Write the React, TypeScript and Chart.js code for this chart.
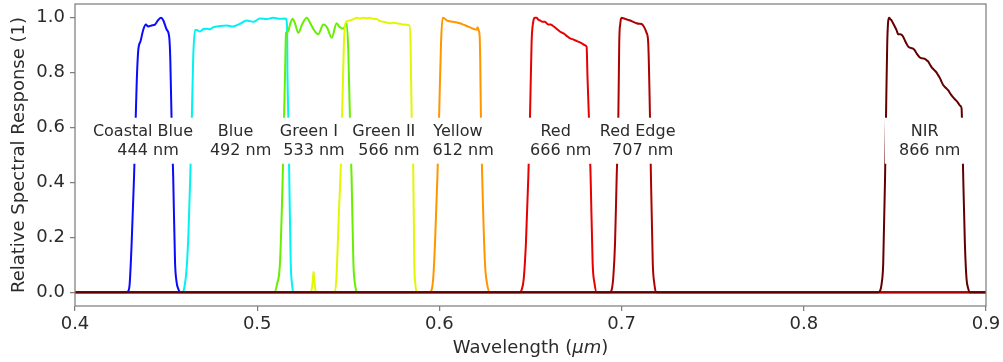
import React, { useEffect, useRef } from "react";
import { Chart, registerables } from "chart.js";

Chart.register(...registerables);

const xTicks = [0.4, 0.5, 0.6, 0.7, 0.8, 0.9];
const yTicks = [0.0, 0.2, 0.4, 0.6, 0.8, 1.0];

const bandNames = ["Coastal Blue", "Blue", "Green I", "Green II", "Yellow", "Red", "Red Edge", "NIR"];
const bandCentersNm = [444, 492, 533, 566, 612, 666, 707, 866];
const labelX = [0.4373, 0.4881, 0.5284, 0.5695, 0.6102, 0.6638, 0.7088, 0.8663];
const labelY = 0.552;
const bandColors = ["#0a0aff", "#00f2f2", "#66f000", "#e2f700", "#ff9600", "#e60000", "#ad0000", "#650000"];

const coastalWl = [0.4, 0.428, 0.4293, 0.43, 0.4311, 0.4324, 0.4333, 0.4339, 0.4347, 0.436, 0.4375, 0.4389, 0.4402, 0.442, 0.4439, 0.4457, 0.4472, 0.4485, 0.4503, 0.4517, 0.4523, 0.453, 0.4539, 0.4549, 0.4557, 0.4567, 0.458, 0.9];
const coastalResp = [0, 0, 0.005, 0.03, 0.18, 0.42, 0.63, 0.77, 0.88, 0.915, 0.957, 0.975, 0.968, 0.972, 0.975, 0.992, 1.0, 0.99, 0.957, 0.93, 0.85, 0.63, 0.42, 0.11, 0.04, 0.012, 0, 0];

const blueWl = [0.4, 0.4591, 0.4601, 0.4613, 0.4623, 0.4633, 0.4641, 0.4649, 0.4659, 0.4668, 0.4686, 0.4703, 0.4723, 0.4741, 0.4757, 0.4796, 0.4833, 0.4867, 0.4906, 0.4942, 0.4979, 0.5015, 0.5052, 0.5087, 0.5125, 0.5156, 0.5164, 0.5166, 0.5171, 0.5176, 0.5184, 0.5191, 0.5198, 0.9];
const blueResp = [0, 0, 0.02, 0.09, 0.22, 0.43, 0.63, 0.86, 0.955, 0.955, 0.95, 0.958, 0.96, 0.958, 0.965, 0.97, 0.972, 0.968, 0.978, 0.99, 0.985, 0.997, 0.995, 1.0, 0.996, 0.997, 0.97, 0.8, 0.63, 0.42, 0.107, 0.03, 0, 0];

const green1Wl = [0.4, 0.5095, 0.5109, 0.5125, 0.514, 0.5147, 0.5153, 0.5158, 0.5169, 0.518, 0.5195, 0.5207, 0.5226, 0.5246, 0.5272, 0.5295, 0.5312, 0.5335, 0.5363, 0.5383, 0.5409, 0.5436, 0.5454, 0.5473, 0.5491, 0.55, 0.5509, 0.5518, 0.5528, 0.5537, 0.5549, 0.9];
const green1Resp = [0, 0, 0.03, 0.107, 0.42, 0.63, 0.8, 0.945, 0.95, 0.975, 0.996, 0.98, 0.945, 0.975, 1.0, 0.975, 0.955, 0.94, 0.975, 0.965, 0.927, 0.98, 0.965, 0.96, 0.98, 0.88, 0.63, 0.42, 0.107, 0.03, 0, 0];

const green2Wl = [0.4, 0.5295, 0.5305, 0.5309, 0.5314, 0.5322, 0.5427, 0.5436, 0.5449, 0.546, 0.5467, 0.5476, 0.5487, 0.5509, 0.5528, 0.5546, 0.5564, 0.5582, 0.56, 0.5619, 0.5637, 0.5655, 0.5674, 0.5692, 0.5711, 0.5729, 0.5747, 0.5765, 0.5784, 0.5802, 0.5835, 0.5842, 0.5848, 0.5857, 0.5862, 0.5868, 0.5875, 0.9];
const green2Resp = [0, 0, 0.04, 0.075, 0.04, 0, 0, 0.07, 0.3, 0.48, 0.67, 0.91, 0.985, 0.99, 0.995, 1.0, 0.997, 1.0, 0.998, 1.0, 0.996, 0.995, 0.988, 0.985, 0.982, 0.98, 0.982, 0.98, 0.978, 0.975, 0.972, 0.9, 0.63, 0.42, 0.107, 0.03, 0, 0];

const yellowWl = [0.4, 0.5945, 0.5958, 0.5967, 0.5976, 0.5989, 0.5998, 0.6009, 0.6018, 0.6027, 0.604, 0.6058, 0.6076, 0.6094, 0.6113, 0.6131, 0.615, 0.6168, 0.6186, 0.6204, 0.621, 0.6215, 0.6221, 0.6224, 0.6228, 0.6235, 0.625, 0.6262, 0.6278, 0.9];
const yellowResp = [0, 0, 0.01, 0.06, 0.18, 0.42, 0.63, 0.91, 1.0, 0.998, 0.99, 0.987, 0.985, 0.983, 0.98, 0.975, 0.97, 0.965, 0.96, 0.956, 0.965, 0.955, 0.93, 0.85, 0.63, 0.42, 0.107, 0.03, 0, 0];

const redWl = [0.4, 0.6441, 0.6452, 0.6463, 0.6475, 0.6488, 0.6497, 0.6506, 0.6515, 0.6524, 0.6533, 0.6543, 0.6552, 0.6566, 0.6579, 0.6597, 0.661, 0.6624, 0.6643, 0.6661, 0.6675, 0.6688, 0.6702, 0.6717, 0.673, 0.6744, 0.6758, 0.6772, 0.6786, 0.6799, 0.6808, 0.6813, 0.6821, 0.683, 0.6841, 0.6852, 0.6863, 0.9];
const redResp = [0, 0, 0.01, 0.05, 0.18, 0.42, 0.63, 0.91, 0.985, 1.0, 1.0, 0.993, 0.99, 0.985, 0.985, 0.975, 0.975, 0.97, 0.96, 0.95, 0.945, 0.94, 0.932, 0.925, 0.922, 0.918, 0.914, 0.91, 0.905, 0.9, 0.894, 0.78, 0.63, 0.42, 0.107, 0.03, 0, 0];

const redEdgeWl = [0.4, 0.6935, 0.6946, 0.6955, 0.6964, 0.6973, 0.6982, 0.6987, 0.6993, 0.7, 0.701, 0.7019, 0.7032, 0.7046, 0.7064, 0.7082, 0.7096, 0.711, 0.712, 0.7128, 0.7137, 0.7146, 0.7156, 0.7161, 0.7171, 0.718, 0.7189, 0.9];
const redEdgeResp = [0, 0, 0.01, 0.06, 0.18, 0.42, 0.63, 0.91, 0.98, 1.0, 0.998, 0.996, 0.993, 0.99, 0.985, 0.98, 0.978, 0.977, 0.97, 0.96, 0.945, 0.91, 0.63, 0.42, 0.107, 0.03, 0, 0];

const nirWl = [0.4, 0.8405, 0.8418, 0.8427, 0.8436, 0.8446, 0.8451, 0.8458, 0.8468, 0.8475, 0.8482, 0.849, 0.85, 0.8509, 0.8518, 0.8528, 0.8537, 0.8546, 0.8555, 0.8564, 0.8573, 0.8587, 0.8601, 0.861, 0.8619, 0.8628, 0.8637, 0.8651, 0.8665, 0.8674, 0.8683, 0.8692, 0.8701, 0.8715, 0.8729, 0.8738, 0.8747, 0.8756, 0.8765, 0.8779, 0.8793, 0.8806, 0.882, 0.8834, 0.8847, 0.8857, 0.8866, 0.8868, 0.8875, 0.8884, 0.8893, 0.8902, 0.8912, 0.9];
const nirResp = [0, 0, 0.005, 0.03, 0.107, 0.42, 0.63, 0.91, 1.0, 0.995, 0.99, 0.98, 0.967, 0.955, 0.94, 0.94, 0.938, 0.93, 0.917, 0.905, 0.895, 0.89, 0.887, 0.88, 0.87, 0.862, 0.855, 0.852, 0.85, 0.845, 0.84, 0.83, 0.82, 0.81, 0.8, 0.79, 0.78, 0.767, 0.755, 0.745, 0.735, 0.722, 0.71, 0.7, 0.69, 0.68, 0.67, 0.63, 0.42, 0.18, 0.05, 0.015, 0, 0];

const bandWl = [coastalWl, blueWl, green1Wl, green2Wl, yellowWl, redWl, redEdgeWl, nirWl];
const bandResp = [coastalResp, blueResp, green1Resp, green2Resp, yellowResp, redResp, redEdgeResp, nirResp];

const FONT = '"DejaVu Sans", "Liberation Sans", sans-serif';
const TEXT = "#2b2b2b";
const SPINE = "#7f7f7f";

const overlayPlugin = {
  id: "overlay",
  afterDatasetsDraw(chart: any) {
    const ctx = chart.ctx;
    const xs = chart.scales.x;
    const ys = chart.scales.y;
    const area = chart.chartArea;
    ctx.save();
    // frame
    ctx.strokeStyle = SPINE;
    ctx.lineWidth = 1.25;
    ctx.strokeRect(area.left, area.top, area.right - area.left, area.bottom - area.top);
    // labels
    ctx.font = `16px ${FONT}`;
    const items = bandNames.map((name, i) => {
      const cx = xs.getPixelForValue(labelX[i]);
      const cy = ys.getPixelForValue(labelY);
      const lines = [name, "  " + bandCentersNm[i] + " nm"];
      const w = Math.max(...lines.map((l) => ctx.measureText(l).width));
      return { cx, cy, lines, w };
    });
    ctx.fillStyle = "#ffffff";
    items.forEach((it) => {
      ctx.fillRect(it.cx - it.w / 2 - 4, it.cy - 23, it.w + 8, 46);
    });
    ctx.fillStyle = TEXT;
    ctx.textAlign = "center";
    ctx.textBaseline = "alphabetic";
    items.forEach((it) => {
      ctx.fillText(it.lines[0], it.cx, it.cy - 4.3);
      ctx.fillText(it.lines[1], it.cx, it.cy + 14);
    });
    // x axis title with italic unit
    const parts = [
      { t: "Wavelength (", f: `18px ${FONT}` },
      { t: "\u03bcm", f: `italic 18px ${FONT}` },
      { t: ")", f: `18px ${FONT}` },
    ];
    let total = 0;
    const widths = parts.map((p) => {
      ctx.font = p.f;
      const w = ctx.measureText(p.t).width;
      total += w;
      return w;
    });
    let x = (area.left + area.right) / 2 - total / 2;
    ctx.textAlign = "left";
    parts.forEach((p, i) => {
      ctx.font = p.f;
      ctx.fillText(p.t, x, 353);
      x += widths[i];
    });
    ctx.restore();
  },
};

export default function App() {
  const ref = useRef<HTMLCanvasElement | null>(null);
  useEffect(() => {
    document.body.style.margin = "0";
    const canvas = ref.current;
    if (!canvas) return;
    Chart.defaults.font.family = FONT;
    const datasets = bandNames.map((name, i) => ({
      label: name,
      data: bandWl[i].map((x, j) => ({ x, y: bandResp[i][j] })),
      borderColor: bandColors[i],
      backgroundColor: bandColors[i],
      borderWidth: 2,
      pointRadius: 0,
      fill: false,
      cubicInterpolationMode: "monotone" as const,
      order: bandNames.length - i,
    }));
    const chart = new Chart(canvas, {
      type: "line",
      data: { datasets },
      options: {
        responsive: false,
        animation: false,
        layout: { padding: { top: 4, right: 17, bottom: 0, left: 0 } },
        plugins: { legend: { display: false }, tooltip: { enabled: false } },
        scales: {
          x: {
            type: "linear",
            min: 0.4,
            max: 0.9,
            afterBuildTicks: (s: any) => {
              s.ticks = xTicks.map((v) => ({ value: v }));
            },
            afterFit: (s: any) => {
              s.height = 56;
              s.paddingLeft = 0;
              s.paddingRight = 0;
            },
            ticks: {
              autoSkip: false,
              maxRotation: 0,
              padding: 3,
              color: TEXT,
              font: { size: 18, family: FONT },
              callback: (v: any) => Number(v).toFixed(1),
            },
            grid: { drawOnChartArea: false, tickLength: 5, color: SPINE, lineWidth: 1.25 },
            border: { display: false },
          },
          y: {
            type: "linear",
            min: -0.05,
            max: 1.05,
            afterBuildTicks: (s: any) => {
              s.ticks = yTicks.map((v) => ({ value: v }));
            },
            afterFit: (s: any) => {
              s.width = 75;
              s.paddingTop = 0;
              s.paddingBottom = 0;
            },
            ticks: {
              autoSkip: false,
              padding: 5,
              color: TEXT,
              font: { size: 18, family: FONT },
              callback: (v: any) => Number(v).toFixed(1),
            },
            grid: { drawOnChartArea: false, tickLength: 5, color: SPINE, lineWidth: 1.25 },
            border: { display: false },
            title: {
              display: true,
              text: "Relative Spectral Response (1)",
              color: TEXT,
              font: { size: 18, family: FONT },
              padding: { top: 9, bottom: 0 },
            },
          },
        },
      },
      plugins: [overlayPlugin],
    });
    return () => chart.destroy();
  }, []);
  return (
    <div style={{ position: "absolute", left: 0, top: 0, width: 1003, height: 362, background: "#fff" }}>
      <canvas ref={ref} width={1003} height={362} style={{ display: "block" }} />
    </div>
  );
}
